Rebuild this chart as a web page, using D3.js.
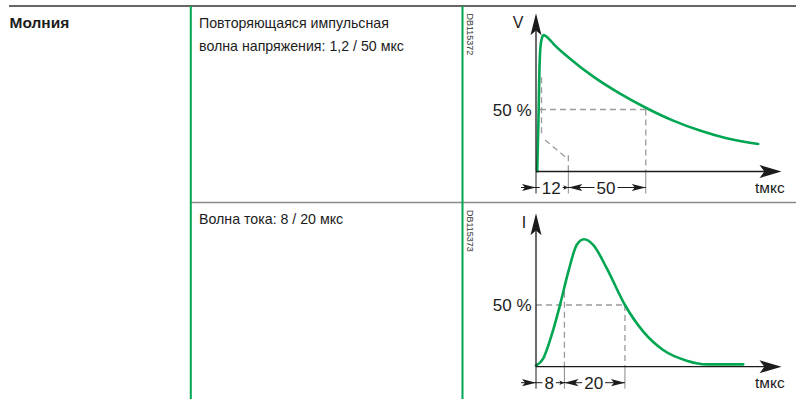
<!DOCTYPE html>
<html>
<head>
<meta charset="utf-8">
<script src="https://cdn.jsdelivr.net/npm/d3@7"></script>
<style>
  body { margin: 0; background: #fff; }
  svg { display: block; font-family: "Liberation Sans", Arial, sans-serif; }
</style>
</head>
<body>
<div id="chart"></div>
<script>
// Lightning surge waves: 1.2/50 voltage wave and 8/20 current wave (schematic)

const rowTitle = "Молния";
const voltText = ["Повторяющаяся импульсная", "волна напряжения: 1,2 / 50 мкс"];
const currText = ["Волна тока: 8 / 20 мкс"];
const docIds = ["DB115372", "DB115373"];
const axisNames = ["V", "I"];
const timeUnit = "tмкс";
const halfLabel = "50 %";
const halfLevel = 50;

// voltage wave — x in schematic units along the time axis (0..100), y in % of level
const voltT = [0.5, 1.0, 1.4, 1.8, 2.4, 3.2, 5.0, 7.1, 13.9, 23.4, 34.3, 45.2, 56.0, 66.9, 77.8, 90.7];
const voltV = [0, 41.5, 81.9, 100, 107.5, 110, 107.5, 103, 91, 76.5, 62.8, 51.0, 41.0, 33.0, 26.8, 22.2];
const voltMarks = [0, 13.2, 44.8];
const voltMarkLabels = ["12", "50"];
// construction line of the front
const voltFrontT = [2.25, 2.25];
const voltFrontV = [76, 28];
const voltSlopeT = [3.7, 12.7];
const voltSlopeV = [25.4, 10.6];

// current wave
const currT = [0, 3.0, 6.4, 9.8, 13.2, 16.6, 19.6, 23.4, 28.9, 36.3, 43.8, 51.9, 61.5, 69.7, 84.6];
const currI = [0.8, 6.8, 25.7, 50, 77, 98.6, 103.3, 98.6, 79.7, 50, 28.4, 13.5, 4.9, 1.9, 1.9];
const currMarks = [0, 11.6, 36.3];
const currMarkLabels = ["8", "20"];
const currFrontTop = 60.8;

const W = 796, H = 399;
const GREEN = "#00a651", INK = "#1c1c1c", DASH = "#9a9a9a";

const svg = d3.select("#chart").append("svg").attr("width", W).attr("height", H);

// table frame
svg.append("line").attr("x1", 9).attr("x2", W).attr("y1", 6).attr("y2", 6)
  .attr("stroke", "#333").attr("stroke-width", 1.6);
svg.append("line").attr("x1", 191).attr("x2", W).attr("y1", 202.5).attr("y2", 202.5)
  .attr("stroke", "#8a8a8a").attr("stroke-width", 1.3);
[190.8, 462.5].forEach(x => {
  svg.append("line").attr("x1", x).attr("x2", x).attr("y1", 6).attr("y2", H)
    .attr("stroke", GREEN).attr("stroke-width", 2);
});

svg.append("text").attr("x", 9.5).attr("y", 28).attr("font-size", 15.5).attr("font-weight", "bold")
  .attr("fill", INK).text(rowTitle);
voltText.forEach((t, i) => {
  svg.append("text").attr("x", 199).attr("y", 28 + i * 22.5).attr("font-size", 14.2)
    .attr("fill", INK).text(t);
});
currText.forEach((t, i) => {
  svg.append("text").attr("x", 199).attr("y", 224 + i * 22.5).attr("font-size", 14.2)
    .attr("fill", INK).text(t);
});

// arrowhead pointing along angle (deg), tip at (x,y)
function arrowHead(g, x, y, angle, len, half) {
  g.append("path")
    .attr("d", `M0,0 L${-len},${-half} L${-len * 0.78},0 L${-len},${half} Z`)
    .attr("transform", `translate(${x},${y}) rotate(${angle})`)
    .attr("fill", INK);
}

function panel(opt) {
  const g = svg.append("g");
  const x = d3.scaleLinear().domain([0, 100]).range([536, 781]);
  const y = d3.scaleLinear().domain([0, 100]).range([opt.y0, opt.y0 - 2 * (opt.y0 - opt.y50)]);
  const dash = sel => sel.attr("stroke", DASH).attr("stroke-width", 1.3)
    .attr("stroke-dasharray", "6,4").attr("fill", "none");

  // document id
  g.append("text").attr("transform", `translate(467.3,${opt.idY}) rotate(90)`)
    .attr("font-size", 9).attr("fill", "#333").text(opt.id);

  // dashed guides
  const m = opt.marks;
  g.append("line").call(dash)
    .attr("x1", x(opt.hStart)).attr("x2", x(m[2])).attr("y1", y(halfLevel)).attr("y2", y(halfLevel));
  g.append("line").call(dash)
    .attr("x1", x(m[2])).attr("x2", x(m[2])).attr("y1", y(halfLevel)).attr("y2", y(0));
  opt.guides(g, x, y, dash);

  // solid extension lines below the axis
  [m[1], m[2]].forEach(v => {
    g.append("line").attr("x1", x(v)).attr("x2", x(v)).attr("y1", y(0)).attr("y2", y(0) + 22)
      .attr("stroke", "#8a8a8a").attr("stroke-width", 1);
  });

  // dimension line
  const dy = y(0) + 16;
  g.append("line").attr("x1", x(0) - 15).attr("x2", x(m[2])).attr("y1", dy).attr("y2", dy)
    .attr("stroke", INK).attr("stroke-width", 1);
  g.append("line").attr("x1", x(0)).attr("x2", x(0)).attr("y1", y(0)).attr("y2", y(0) + 22)
    .attr("stroke", INK).attr("stroke-width", 1);
  arrowHead(g, x(0), dy, 0, 14, 3.6);
  arrowHead(g, x(m[1]), dy, 0, 5, 2.2);
  arrowHead(g, x(m[1]), dy, 180, 14, 3.6);
  arrowHead(g, x(m[2]), dy, 0, 14, 3.6);
  opt.markLabels.forEach((t, i) => {
    const cx = i === 0 ? (x(m[0]) + x(m[1])) / 2 + opt.lab0dx : (x(m[1]) + x(m[2])) / 2 - 1;
    const txt = g.append("text").attr("x", cx).attr("y", dy + 6.5).attr("text-anchor", "middle")
      .attr("font-size", 17).attr("fill", INK).text(t);
    const bb = txt.node().getBBox();
    g.insert("rect", () => txt.node()).attr("x", bb.x - 2).attr("y", dy - 2)
      .attr("width", bb.width + 4).attr("height", 4).attr("fill", "#fff");
  });

  // curve
  const line = d3.line().x(d => x(d[0])).y(d => y(d[1])).curve(d3.curveMonotoneX);
  g.append("path").datum(d3.zip(opt.t, opt.v)).attr("d", line)
    .attr("fill", "none").attr("stroke", GREEN).attr("stroke-width", 2.6)
    .attr("stroke-linejoin", "round").attr("stroke-linecap", "round");

  // axes
  g.append("line").attr("x1", x(0)).attr("x2", x(0)).attr("y1", y(0)).attr("y2", opt.yTip + 10)
    .attr("stroke", INK).attr("stroke-width", 1.3);
  arrowHead(g, x(0), opt.yTip, -90, 22, 5.5);
  g.append("line").attr("x1", x(0)).attr("x2", x(100) - 10).attr("y1", y(0)).attr("y2", y(0))
    .attr("stroke", INK).attr("stroke-width", 1.3);
  arrowHead(g, x(100) + 0.5, y(0), 0, 22, 6.5);

  // labels
  g.append("text").attr("x", 531.5).attr("y", y(halfLevel) + 6).attr("text-anchor", "end")
    .attr("font-size", 17).attr("fill", INK).text(halfLabel);
  g.append("text").attr("x", opt.nameX).attr("y", opt.yTip + 15).attr("text-anchor", "middle")
    .attr("font-size", 16).attr("fill", INK).text(opt.name);
  g.append("text").attr("x", 755).attr("y", y(0) + 21.5)
    .attr("font-size", 15.5).attr("fill", INK).text(timeUnit);
}

panel({
  id: docIds[0], idY: 13.5, name: axisNames[0], nameX: 518,
  y0: 171.5, y50: 109.5, yTip: 13.3,
  t: voltT, v: voltV, marks: voltMarks, markLabels: voltMarkLabels, hStart: 1.6, lab0dx: -1,
  guides: (g, x, y, dash) => {
    g.append("line").call(dash)
      .attr("x1", x(voltFrontT[0])).attr("x2", x(voltFrontT[1]))
      .attr("y1", y(voltFrontV[0])).attr("y2", y(voltFrontV[1]));
    g.append("line").call(dash)
      .attr("x1", x(voltSlopeT[0])).attr("x2", x(voltSlopeT[1]))
      .attr("y1", y(voltSlopeV[0])).attr("y2", y(voltSlopeV[1]));
    g.append("line").call(dash)
      .attr("x1", x(voltMarks[1])).attr("x2", x(voltMarks[1]))
      .attr("y1", y(voltSlopeV[1]) - 3).attr("y2", y(0));
  }
});

panel({
  id: docIds[1], idY: 210, name: axisNames[1], nameX: 524,
  y0: 366.7, y50: 305, yTip: 213.3,
  t: currT, v: currI, marks: currMarks, markLabels: currMarkLabels, hStart: 0, lab0dx: -1,
  guides: (g, x, y, dash) => {
    g.append("line").call(dash)
      .attr("x1", x(currMarks[1])).attr("x2", x(currMarks[1]))
      .attr("y1", y(currFrontTop)).attr("y2", y(0));
  }
});
</script>
</body>
</html>
